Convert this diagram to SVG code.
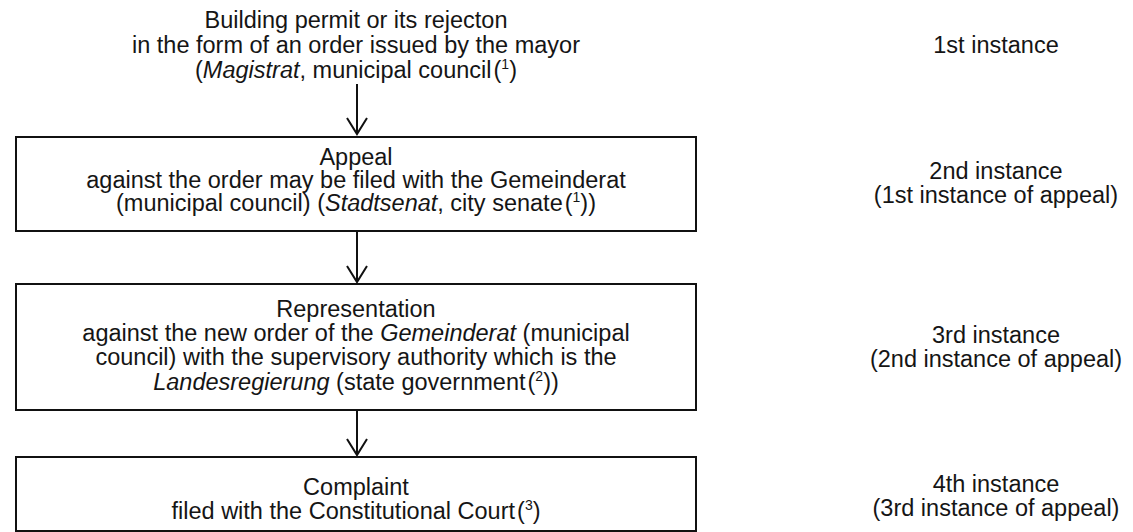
<svg xmlns="http://www.w3.org/2000/svg" width="1133" height="532" viewBox="0 0 1133 532">
  <style>
    text { font-family: "Liberation Sans", Arial, sans-serif; font-size: 23.5px; fill: #151515; text-anchor: middle; }
    .box { fill: none; stroke: #111; stroke-width: 2; }
    .link { stroke: #111; stroke-width: 2; fill: none; marker-end: url(#head); }
    .sup { font-size: 14px; }
    .it { font-style: italic; }
  </style>
  <defs>
    <!-- open V arrowhead, tip at the end of the line -->
    <marker id="head" viewBox="-18 -12 20 24" refX="0" refY="0" markerWidth="20" markerHeight="24" markerUnits="userSpaceOnUse" orient="auto">
      <path d="M-16 -10 L0 0 L-16 10" fill="none" stroke="#111" stroke-width="2"/>
    </marker>
  </defs>

  <!-- first decision, no frame -->
  <g id="permit">
    <text x="356" y="28">Building permit or its rejecton</text>
    <text x="356" y="53">in the form of an order issued by the mayor</text>
    <text x="356" y="78">(<tspan class="it">Magistrat</tspan>, municipal council<tspan dx="2">(</tspan><tspan class="sup" dy="-9">1</tspan><tspan dy="9">)</tspan></text>
  </g>

  <g id="appeal">
    <rect class="box" x="16" y="137" width="680" height="94"/>
    <text x="356" y="165">Appeal</text>
    <text x="356" y="188">against the order may be filed with the Gemeinderat</text>
    <text x="356" y="211">(municipal council) (<tspan class="it">Stadtsenat</tspan>, city senate<tspan dx="2">(</tspan><tspan class="sup" dy="-9">1</tspan><tspan dy="9">))</tspan></text>
  </g>

  <g id="representation">
    <rect class="box" x="16" y="284" width="680" height="126"/>
    <text x="356" y="317">Representation</text>
    <text x="356" y="341">against the new order of the <tspan class="it">Gemeinderat</tspan> (municipal</text>
    <text x="356" y="365">council) with the supervisory authority which is the</text>
    <text x="356" y="390"><tspan class="it">Landesregierung</tspan> (state government<tspan dx="2">(</tspan><tspan class="sup" dy="-9">2</tspan><tspan dy="9">))</tspan></text>
  </g>

  <!-- last frame runs down to the lower edge -->
  <g id="complaint">
    <rect class="box" x="16" y="457" width="680" height="74"/>
    <text x="356" y="495">Complaint</text>
    <text x="356" y="519">filed with the Constitutional Court<tspan dx="2">(</tspan><tspan class="sup" dy="-9">3</tspan><tspan dy="9">)</tspan></text>
  </g>

  <!-- instance labels -->
  <g id="instance-1"><text x="996" y="53">1st instance</text></g>
  <g id="instance-2">
    <text x="996" y="179">2nd instance</text>
    <text x="996" y="203">(1st instance of appeal)</text>
  </g>
  <g id="instance-3">
    <text x="996" y="343">3rd instance</text>
    <text x="996" y="367">(2nd instance of appeal)</text>
  </g>
  <g id="instance-4">
    <text x="996" y="492">4th instance</text>
    <text x="996" y="516">(3rd instance of appeal)</text>
  </g>

  <g id="connectors">
    <path class="link" d="M357 84 V134"/>
    <path class="link" d="M357 232 V282"/>
    <path class="link" d="M357 411 V455"/>
  </g>
</svg>
